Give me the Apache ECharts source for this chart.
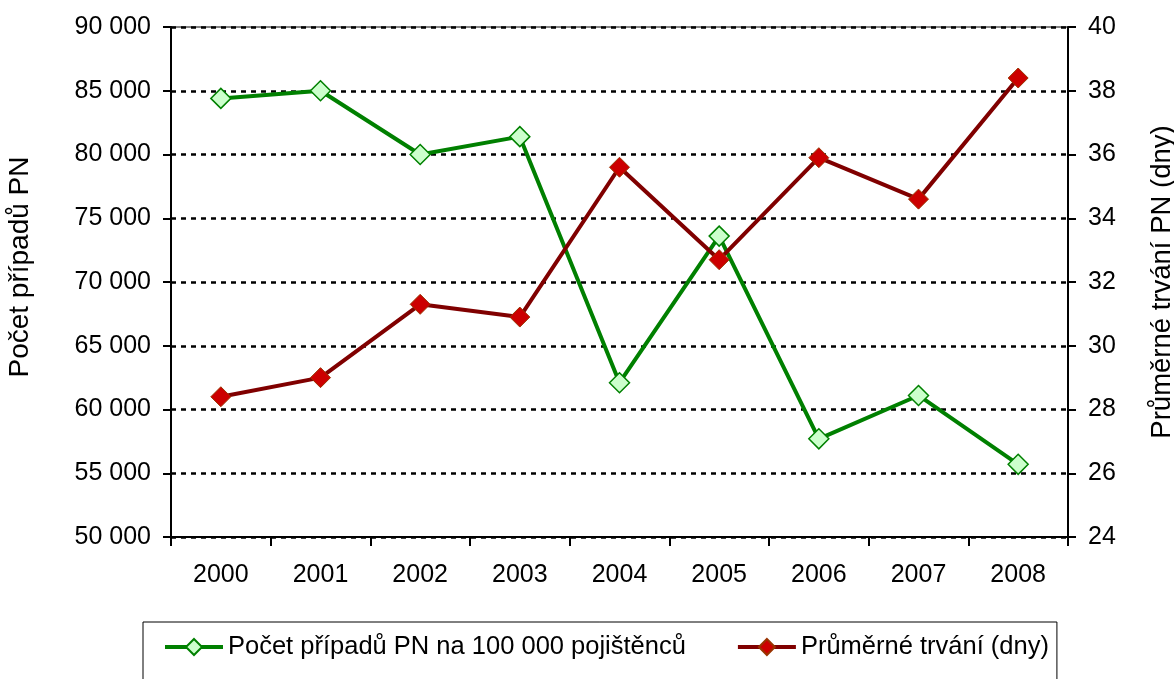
<!DOCTYPE html>
<html>
<head>
<meta charset="utf-8">
<script src="https://cdn.jsdelivr.net/npm/echarts@6/dist/echarts.min.js"></script>
<style>
  html, body { margin: 0; padding: 0; background: #fff; }
  #chart { width: 1174px; height: 679px; }
</style>
</head>
<body>
<div id="chart"></div>
<script>
var years = ["2000", "2001", "2002", "2003", "2004", "2005", "2006", "2007", "2008"];
var pocetPripadu = [84400, 85000, 80000, 81400, 62100, 73600, 57700, 61100, 55700];
var prumerneTrvani = [28.4, 29.0, 31.3, 30.9, 35.6, 32.7, 35.9, 34.6, 38.4];

var myChart = echarts.init(document.getElementById("chart"));
var font = "Liberation Sans, Arial, sans-serif";

function thousands(v) {
  return String(v).replace(/\B(?=(\d{3})+(?!\d))/g, " ");
}

myChart.setOption({
  animation: false,
  textStyle: { fontFamily: font, color: "#000" },
  grid: {
    left: 171,
    right: 106,
    top: 27,
    bottom: 142,
    outerBoundsMode: "none",
    containLabel: false,
    show: true,
    borderColor: "#000",
    borderWidth: 1
  },
  legend: {
    left: 143,
    top: 622,
    padding: [12, 8, 40, 20],
    borderColor: "#000",
    borderWidth: 1,
    itemWidth: 58,
    itemHeight: 20,
    itemGap: 50,
    lineStyle: { width: 4 },
    textStyle: { fontSize: 25.5, fontFamily: font, color: "#000" },
    data: ["Počet případů PN na 100 000 pojištěnců", "Průměrné trvání (dny)"]
  },
  xAxis: {
    type: "category",
    data: years,
    boundaryGap: true,
    axisLine: { lineStyle: { color: "#000", width: 2 } },
    axisTick: { show: true, length: 9, lineStyle: { color: "#000", width: 2 } },
    axisLabel: { fontSize: 25, color: "#000", margin: 26, fontFamily: font },
    splitLine: { show: false }
  },
  yAxis: [
    {
      type: "value",
      min: 50000,
      max: 90000,
      interval: 5000,
      name: "Počet případů PN",
      nameLocation: "middle",
      nameRotate: 90,
      nameGap: 137,
      nameTextStyle: { fontSize: 28, color: "#000", fontFamily: font, padding: [0, 0, 0, 30] },
      axisLine: { show: true, lineStyle: { color: "#000", width: 2 } },
      axisTick: { show: true, length: 8, lineStyle: { color: "#000", width: 2 } },
      axisLabel: { fontSize: 25, color: "#000", margin: 20, fontFamily: font, formatter: thousands },
      splitLine: { show: true, lineStyle: { color: "#000", width: 2.5, type: [5, 5] } }
    },
    {
      type: "value",
      min: 24,
      max: 40,
      interval: 2,
      name: "Průměrné trvání PN (dny)",
      nameLocation: "middle",
      nameRotate: 90,
      nameGap: 80,
      nameTextStyle: { fontSize: 27.5, color: "#000", fontFamily: font },
      axisLine: { show: true, lineStyle: { color: "#000", width: 2 } },
      axisTick: { show: true, length: 8, lineStyle: { color: "#000", width: 2 } },
      axisLabel: { fontSize: 25, color: "#000", margin: 20, fontFamily: font },
      splitLine: { show: false }
    }
  ],
  series: [
    {
      name: "Počet případů PN na 100 000 pojištěnců",
      type: "line",
      yAxisIndex: 0,
      data: pocetPripadu,
      symbol: "diamond",
      symbolSize: 20,
      lineStyle: { color: "#008000", width: 4 },
      itemStyle: { color: "#ccffcc", borderColor: "#008000", borderWidth: 1.5 }
    },
    {
      name: "Průměrné trvání (dny)",
      type: "line",
      yAxisIndex: 1,
      data: prumerneTrvani,
      symbol: "diamond",
      symbolSize: 20,
      lineStyle: { color: "#800000", width: 4 },
      itemStyle: { color: "#cc0000", borderColor: "#993300", borderWidth: 1 }
    }
  ]
});
</script>
</body>
</html>
